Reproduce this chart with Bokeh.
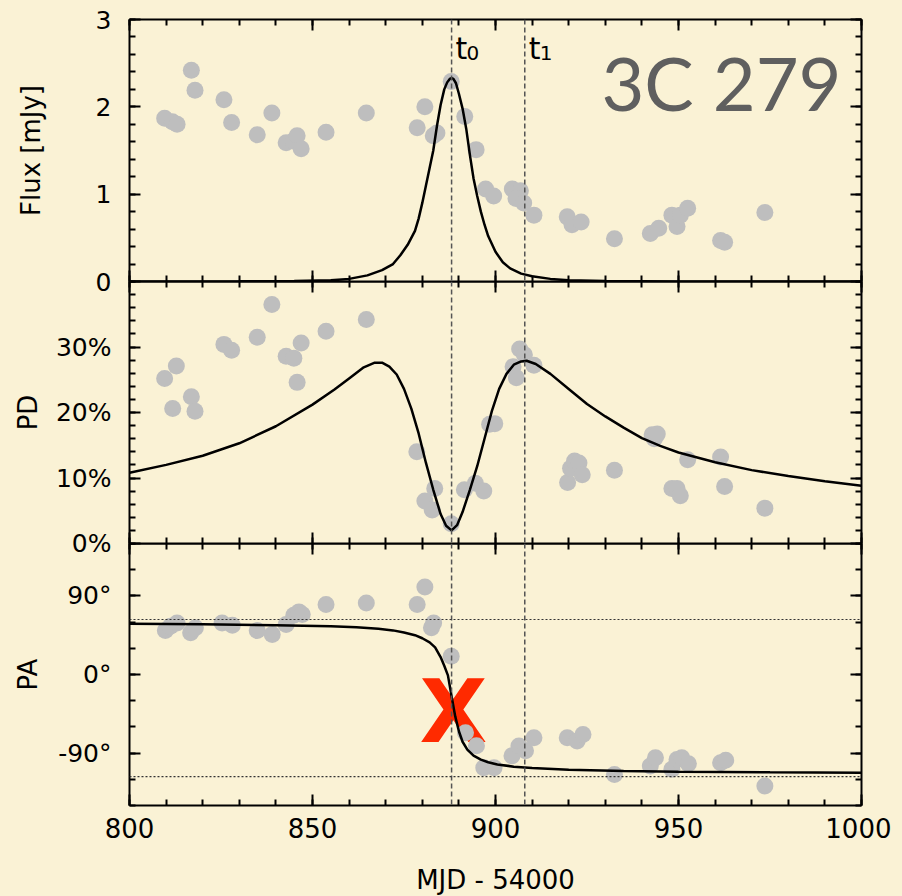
from bokeh.plotting import figure
from bokeh.models import (Range1d, LinearAxis, FixedTicker, Span, Label, GlobalInlineStyleSheet,
                          CustomLabelingPolicy)
from bokeh.layouts import column
from bokeh.embed import file_html
from bokeh.resources import INLINE

# ---------------- data ----------------
t0 = 888
t1 = 908
pa_asymptotes = [63, -117]

flux_obs_x = [809.6, 811.7, 813.0, 816.9, 817.9, 825.8, 827.9, 834.9, 838.9, 842.8, 844.7, 845.8,
              846.9, 853.7, 864.7, 878.6, 880.7, 883.0, 884.0, 887.9, 891.6, 894.7, 897.3, 899.5,
              904.6, 906.8, 905.6, 907.7, 910.5, 919.6, 920.9, 923.4, 932.5, 942.3, 944.6, 948.2,
              949.6, 950.5, 952.5, 961.5, 962.6, 973.6]
flux_obs_y = [1.87, 1.83, 1.80, 2.42, 2.19, 2.08, 1.82, 1.68, 1.93, 1.59, 1.61, 1.67,
              1.52, 1.71, 1.93, 1.76, 2.00, 1.67, 1.70, 2.29, 1.89, 1.51, 1.06, 0.98,
              1.06, 1.04, 0.95, 0.90, 0.76, 0.74, 0.65, 0.68, 0.49, 0.55, 0.61, 0.76,
              0.63, 0.76, 0.84, 0.47, 0.45, 0.79]

pd_obs_x = [809.6, 811.8, 812.8, 816.9, 817.9, 825.8, 827.9, 834.9, 838.9, 842.8, 844.9, 845.8,
            846.9, 853.7, 864.7, 878.5, 880.7, 882.7, 883.4, 887.9, 891.5, 894.5, 896.8, 898.4,
            899.8, 904.8, 905.7, 906.6, 907.9, 910.5, 919.7, 920.5, 921.6, 922.8, 923.7, 932.5,
            942.8, 943.4, 944.2, 948.2, 949.6, 950.5, 952.5, 961.5, 962.6, 973.6]
pd_obs_y = [25.2, 20.6, 27.1, 22.4, 20.2, 30.4, 29.5, 31.5, 36.5, 28.6, 28.3, 24.6,
            30.6, 32.4, 34.2, 14.0, 6.5, 5.1, 8.4, 3.0, 8.2, 9.2, 8.0, 18.2,
            18.3, 27.0, 25.3, 29.7, 28.8, 27.2, 9.3, 11.5, 12.6, 12.3, 10.5, 11.2,
            16.6, 16.0, 16.7, 8.4, 8.4, 7.3, 12.8, 13.2, 8.7, 5.4]

pa_obs_x = [809.8, 811.2, 813.0, 816.7, 818.0, 825.3, 828.1, 834.9, 839.0, 842.8, 844.9, 846.3,
            847.2, 853.7, 864.7, 878.6, 880.7, 882.5, 883.1, 887.9, 891.8, 894.8, 896.8, 899.6,
            904.5, 906.4, 908.2, 910.5, 919.6, 922.3, 923.9, 932.5, 942.3, 943.7, 948.2, 949.6,
            950.9, 952.7, 961.5, 962.9, 973.6]
pa_obs_y = [50.3, 55.3, 59.1, 47.7, 53.4, 59.1, 56.5, 50.3, 45.7, 57.2, 67.9, 71.7,
            68.6, 80.1, 82.0, 80.1, 100.3, 53.4, 59.1, 21.0, -66.7, -81.5, -106.7, -106.7,
            -93.0, -82.0, -87.3, -72.4, -72.4, -76.2, -68.6, -114.4, -104.8, -95.3, -108.6, -97.2,
            -95.3, -102.1, -101.0, -98.3, -127.6]

flux_model_x = [800, 830, 845, 855, 860, 865, 869, 872, 874, 876, 878, 879, 880, 881, 882, 883,
                884, 885, 886, 886.8, 887.5, 888, 888.5, 889.2, 890, 891, 892, 893, 894, 895,
                896, 897, 898, 900, 902, 904, 907, 910, 915, 920, 930, 950, 1000]
flux_model_y = [0.0, 0.002, 0.005, 0.015, 0.03, 0.07, 0.13, 0.2, 0.3, 0.42, 0.58, 0.72, 0.9, 1.1,
                1.3, 1.5, 1.78, 2.02, 2.2, 2.28, 2.32, 2.33, 2.32, 2.27, 2.15, 1.98, 1.75, 1.45,
                1.18, 0.98, 0.8, 0.65, 0.52, 0.34, 0.22, 0.15, 0.09, 0.06, 0.03, 0.015, 0.005,
                0.001, 0.0]

pd_model_x = [800, 810, 820, 830, 840, 850, 856, 860, 864, 867, 869, 871, 873, 875, 877, 879,
              881, 883, 885, 886.5, 888, 889.5, 891, 893, 895, 897, 899, 901, 903, 905, 907,
              908.5, 911, 915, 920, 925, 930, 935, 940, 945, 950, 960, 970, 980, 990, 1000]
pd_model_y = [10.8, 12.0, 13.4, 15.3, 17.9, 21.2, 23.5, 25.2, 26.9, 27.6, 27.6, 27.0, 25.8,
              23.6, 20.6, 16.8, 12.3, 8.2, 4.5, 2.7, 2.0, 2.8, 4.8, 8.2, 11.8, 16.0, 20.2,
              23.6, 25.9, 27.3, 27.8, 27.9, 27.4, 25.9, 23.6, 21.3, 19.4, 17.7, 16.1, 14.9,
              13.9, 12.4, 11.2, 10.3, 9.5, 8.8]

pa_model_x = [800, 820, 840, 855, 862, 868, 872, 875, 878, 880, 882, 883.5, 885, 886, 887, 888,
              889, 890, 891, 892.3, 894, 896, 898, 900.5, 905, 910, 920, 935, 950, 975, 1000]
pa_model_y = [58, 57.5, 56.5, 55.2, 54, 52.5, 50.5, 48, 45, 41.5, 36.8, 31, 20, 10, -1, -25,
              -48, -65, -77, -86, -93, -97.5, -100.5, -103, -105.5, -107, -109, -110.5, -111.3,
              -112, -112.5]

x_ticks = [800, 850, 900, 950, 1000]
x_tick_labels = ["800", "850", "900", "950", "1000"]
x_minor = list(range(800, 1001, 10))
flux_ticks = [0, 1, 2, 3]
flux_tick_labels = ["0", "1", "2", "3"]
flux_minor = [round(0.2 * i, 1) for i in range(16)]
pd_ticks = [0, 10, 20, 30]
pd_tick_labels = ["0%", "10%", "20%", "30%"]
pd_minor = list(range(0, 41, 2))
pa_ticks = [-90, 0, 90]
pa_tick_labels = ["-90°", "0°", "90°"]
pa_minor = list(range(-150, 151, 30))

# ---------------- style ----------------
BG = "#faf2d5"
DOT = "#bebebe"
FONT = "DejaVu Sans"
xr = Range1d(800, 1000)


def style_axis(ax, show, size="25px"):
    ax.axis_line_width = 2
    ax.axis_line_color = "black"
    ax.major_tick_line_width = 2
    ax.minor_tick_line_width = 2
    ax.major_tick_in = 11
    ax.major_tick_out = 0
    ax.minor_tick_in = 6
    ax.minor_tick_out = 0
    if show:
        ax.major_label_text_font = FONT
        ax.major_label_text_font_size = size
        ax.major_label_text_color = "black"
        ax.major_label_standoff = 18
    else:
        ax.major_label_text_font_size = "0px"
        ax.major_label_standoff = 0
        ax.major_label_policy = CustomLabelingPolicy(code="return []")


def make_panel(y0, y1, top, bottom, margin_top, ticks, minor, labels, title, title_standoff, show_x):
    p = figure(frame_width=732, frame_height=262, x_range=xr, y_range=Range1d(y0, y1),
               output_backend="svg", toolbar_location=None,
               x_axis_location=None, y_axis_location=None,
               min_border_left=129, min_border_right=30,
               min_border_top=top, min_border_bottom=bottom,
               background_fill_alpha=0, border_fill_alpha=0, outline_line_color=None)
    p.grid.visible = False
    if margin_top:
        p.margin = (margin_top, 0, 0, 0)

    left = LinearAxis(ticker=FixedTicker(ticks=ticks, minor_ticks=minor),
                      major_label_overrides=dict(zip(ticks, labels)))
    style_axis(left, True, "25px")
    left.axis_label = title
    left.axis_label_text_font = FONT
    left.axis_label_text_font_size = "26px"
    left.axis_label_text_font_style = "normal"
    left.axis_label_text_color = "black"
    left.axis_label_standoff = title_standoff
    p.add_layout(left, "left")

    right = LinearAxis(ticker=FixedTicker(ticks=ticks, minor_ticks=minor))
    style_axis(right, False)
    p.add_layout(right, "right")

    above = LinearAxis(ticker=FixedTicker(ticks=x_ticks, minor_ticks=x_minor))
    style_axis(above, False)
    p.add_layout(above, "above")

    below = LinearAxis(ticker=FixedTicker(ticks=x_ticks, minor_ticks=x_minor),
                       major_label_overrides=dict(zip(x_ticks, x_tick_labels)))
    style_axis(below, show_x, "26px")
    if show_x:
        below.major_label_standoff = 12
        below.axis_label = "MJD - 54000"
        below.axis_label_text_font = FONT
        below.axis_label_text_font_size = "26px"
        below.axis_label_text_font_style = "normal"
        below.axis_label_text_color = "black"
        below.axis_label_standoff = 24
    p.add_layout(below, "below")

    for t in (t0, t1):
        p.add_layout(Span(location=t, dimension="height", line_color="#555555",
                          line_dash="5 3", line_width=1.5))
    return p


p1 = make_panel(0, 3, 19, 14, 0, flux_ticks, flux_minor, flux_tick_labels, "Flux [mJy]", 47, False)
p2 = make_panel(0, 40, 0, 14, -14, pd_ticks, pd_minor, pd_tick_labels, "PD", 10, False)
p3 = make_panel(-150, 150, 0, 80, -14, pa_ticks, pa_minor, pa_tick_labels, "PA", 12, True)

# Flux panel
p1.scatter(flux_obs_x, flux_obs_y, size=17, fill_color=DOT, line_color=None)
p1.line(flux_model_x, flux_model_y, line_width=2.5, line_color="black")
p1.add_layout(Label(x=1000, y=3, x_offset=-20, y_offset=-63, text="3C 279",
                    text_font="Lato", text_font_size="74px", text_color="#5f5f5f",
                    text_align="right", text_baseline="alphabetic"))
for t, sub in ((t0, "0"), (t1, "1")):
    p1.add_layout(Label(x=t, y=3, x_offset=4, y_offset=-29, text="t", text_font=FONT,
                        text_font_size="30px", text_color="black", text_baseline="alphabetic"))
    p1.add_layout(Label(x=t, y=3, x_offset=15, y_offset=-33, text=sub, text_font=FONT,
                        text_font_size="20px", text_color="black", text_baseline="alphabetic"))

# PD panel
p2.scatter(pd_obs_x, pd_obs_y, size=17, fill_color=DOT, line_color=None)
p2.line(pd_model_x, pd_model_y, line_width=2.5, line_color="black")

# PA panel
p3.add_layout(Label(x=888.5, y=-42, text="X", text_font=FONT, text_font_size="88px",
                    text_font_style="bold",
                    text_color="#ff2a00", text_align="center", text_baseline="middle",
                    level="underlay"))
for v in pa_asymptotes:
    p3.add_layout(Span(location=v, dimension="width", line_color="#333333",
                       line_dash="2 2", line_width=1.2))
p3.scatter(pa_obs_x, pa_obs_y, size=17, fill_color=DOT, line_color=None)
p3.line(pa_model_x, pa_model_y, line_width=2.5, line_color="black")

layout = column(p1, p2, p3, spacing=0,
                styles={"background-color": BG},
                stylesheets=[GlobalInlineStyleSheet(
                    css="html, body { background-color: %s; overflow: hidden; }" % BG)])

open("out.html", "w").write(file_html(layout, INLINE))
